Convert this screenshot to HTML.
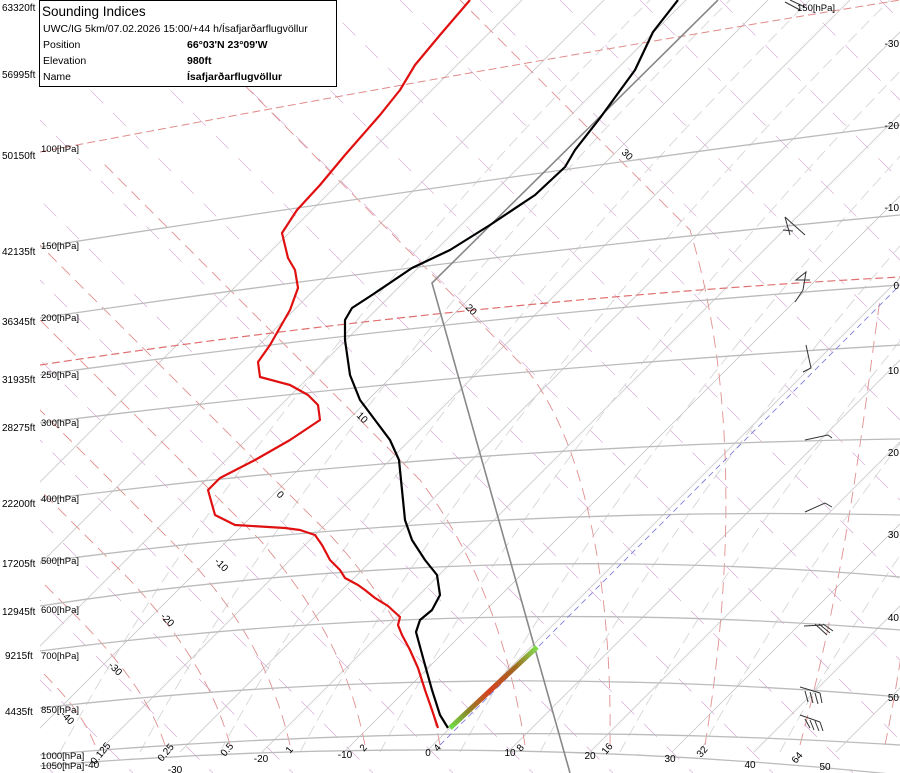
<!DOCTYPE html>
<html><head><meta charset="utf-8"><style>
body{margin:0;background:#fff}
svg{display:block;font-family:"Liberation Sans",sans-serif}
</style></head><body>
<svg width="900" height="773" viewBox="0 0 900 773" xmlns="http://www.w3.org/2000/svg">
<defs>
<clipPath id="c"><rect x="40" y="0" width="860" height="773"/></clipPath>
<linearGradient id="pg" x1="450" y1="728" x2="537" y2="647" gradientUnits="userSpaceOnUse">
<stop offset="0" stop-color="#6ee04a"/><stop offset="0.2" stop-color="#8a8a2a"/><stop offset="0.45" stop-color="#d84020"/><stop offset="0.75" stop-color="#a06a20"/><stop offset="1" stop-color="#7ee050"/>
</linearGradient>
</defs>
<rect width="900" height="773" fill="#fff"/>
<g clip-path="url(#c)">
<g stroke="#dcb8dc" stroke-width="0.8" stroke-dasharray="18,14" fill="none">
<path d="M-400,0 L373,773 M-320,0 L453,773 M-240,0 L533,773 M-160,0 L613,773 M-80,0 L693,773 M0,0 L773,773 M80,0 L853,773 M160,0 L933,773 M240,0 L1013,773 M320,0 L1093,773 M400,0 L1173,773 M480,0 L1253,773 M560,0 L1333,773 M640,0 L1413,773 M720,0 L1493,773 M800,0 L1573,773 M880,0 L1653,773 M-480,0 L293,773 M-560,0 L213,773 M-640,0 L133,773 M-720,0 L53,773"/>
</g>
<g stroke="#c8c8c8" stroke-width="0.8" fill="none">
<path d="M-230,752 L522,0 M-148,752 L604,0 M-66,752 L686,0 M16,752 L768,0 M98,752 L850,0 M180,752 L932,0 M262,752 L1014,0 M344,752 L1096,0 M426,752 L1178,0 M508,752 L1260,0 M590,752 L1342,0 M672,752 L1424,0 M754,752 L1506,0 M836,752 L1588,0 M918,752 L1670,0"/>
</g>
<g stroke="#d6d6d6" stroke-width="0.9" stroke-dasharray="12,6" fill="none">
<path d="M60,752 Q250,400 650,0 M140,752 Q330,400 730,0 M220,752 Q410,400 810,0 M300,752 Q490,400 890,0 M380,752 Q570,400 970,0 M460,752 Q650,400 1050,0 M540,752 Q730,400 1130,0 M620,752 Q810,400 1210,0 M700,752 Q890,400 1290,0 M780,752 Q970,400 1370,0"/>
</g>
<g stroke="#e09090" stroke-width="0.9" stroke-dasharray="12,7" fill="none">
<path d="M95,745 C85,720 70,700 40,670"/>
<path d="M165,745 C150,700 120,660 70,610 L40,580"/>
<path d="M230,745 C215,690 185,640 130,580 L40,490"/>
<path d="M290,745 C275,680 245,620 190,560 L40,410"/>
<path d="M365,745 C350,670 320,610 260,540 L40,320"/>
<path d="M440,745 C425,665 390,600 330,535 L40,245"/>
<path d="M525,745 C510,650 480,560 420,480 L100,160"/>
<path d="M610,745 C612,600 590,450 527,370 L160,0"/>
<path d="M705,745 C735,560 735,380 690,230 L460,0"/>
<path d="M800,745 C850,560 865,400 880,300"/>
<path d="M885,745 C915,600 925,450 930,380"/>
</g>
<g stroke="#bbb" stroke-width="1.3" fill="none">
<path d="M40,247 Q470,180 900,125"/>
<path d="M40,318 Q470,255 900,215"/>
<path d="M40,423 Q470,370 900,345"/>
<path d="M40,500 Q470,445 900,439"/>
<path d="M40,562 Q470,505 900,515"/>
<path d="M40,606 Q470,540 900,577"/>
<path d="M40,651 Q470,595 900,630"/>
<path d="M40,708 Q470,660 900,697"/>
<path d="M40,755 Q470,718 900,745"/>
<path d="M40,766 Q470,730 900,775"/>
<path d="M40,375 Q470,315 900,285"/>
</g>
<path d="M40,152 Q470,70 900,0" stroke="#e08a8a" stroke-width="1" stroke-dasharray="8,4" fill="none"/>
<path d="M40,365 Q470,300 900,277" stroke="#e07070" stroke-width="1.2" stroke-dasharray="8,4" fill="none"/>
<path d="M440,745 L900,285" stroke="#8080e0" stroke-width="0.9" stroke-dasharray="6,4" fill="none"/>
<path d="M570,773 L432,283 L718,0" stroke="#888" stroke-width="1.6" fill="none"/>
<path d="M450,728 L537,647" stroke="url(#pg)" stroke-width="5" fill="none"/>
<path d="M448,728 L440,715 L432,690 L425,665 L416,632 L420,620 L432,610 L440,595 L437,575 L425,560 L412,540 L405,520 L402,490 L399,460 L390,440 L375,420 L360,400 L350,375 L345,340 L345,320 L352,308 L372,295 L412,268 L450,250 L490,225 L535,195 L565,167 L575,150 L600,118 L635,70 L653,32 L678,0" stroke="#000" stroke-width="2.2" fill="none" stroke-linejoin="round"/>
<path d="M438,728 L432,710 L425,690 L418,668 L410,650 L402,635 L398,625 L400,617 L388,606 L375,598 L365,590 L358,585 L345,578 L340,570 L330,560 L322,545 L315,535 L300,530 L285,528 L235,525 L215,515 L208,490 L220,478 L255,460 L290,440 L320,420 L318,405 L308,395 L290,385 L260,377 L258,362 L270,345 L290,310 L298,288 L295,270 L288,258 L282,233 L297,210 L320,185 L345,155 L380,115 L400,90 L415,65 L440,35 L470,0" stroke="#e01010" stroke-width="2.2" fill="none" stroke-linejoin="round"/>
<g stroke="#333" stroke-width="1" fill="none">
<path d="M805,7 L790,0 M800,10 L785,2"/>
<path d="M805,235 L785,217 M785,217 L790,235 M783,230 L793,231"/>
<path d="M803,290 L806,272 L796,280 L810,280 M803,290 L795,302"/>
<path d="M806,345 L811,368 L803,372"/>
<path d="M805,440 L828,435 L832,438"/>
<path d="M805,512 L825,503 L832,507"/>
<path d="M804,626 L823,625 M815,624 L827,635 M819,624 L830,633 M823,624 L833,631"/>
<path d="M800,687 L820,693 M805,691 L808,702 M810,692 L813,703 M815,693 L818,704 M820,693 L822,703"/>
<path d="M800,715 L820,722 M805,719 L810,728 M810,720 L814,730 M815,721 L819,731 M820,722 L823,731"/>
</g>
</g>
<rect x="39.5" y="0.5" width="297" height="86" fill="#fff" stroke="#000"/>
<g font-size="10.5" fill="#000">
<text x="42" y="16" font-size="13.5">Sounding Indices</text>
<text x="43" y="32">UWC/IG 5km/07.02.2026 15:00/+44 h/Ísafjarðarflugvöllur</text>
<text x="43" y="48">Position</text><text x="187" y="48" font-weight="bold">66°03'N 23°09'W</text>
<text x="43" y="64">Elevation</text><text x="187" y="64" font-weight="bold">980ft</text>
<text x="43" y="80">Name</text><text x="187" y="80" font-weight="bold">Ísafjarðarflugvöllur</text>
</g>
<g font-size="10" fill="#000">
<text x="2" y="11">63320ft</text>
<text x="2" y="78">56995ft</text>
<text x="2" y="159">50150ft</text>
<text x="2" y="255">42135ft</text>
<text x="2" y="325">36345ft</text>
<text x="2" y="383">31935ft</text>
<text x="2" y="431">28275ft</text>
<text x="2" y="507">22200ft</text>
<text x="2" y="567">17205ft</text>
<text x="2" y="615">12945ft</text>
<text x="5" y="659">9215ft</text>
<text x="5" y="715">4435ft</text>
</g>
<g font-size="9.5" fill="#000">
<text x="41" y="152">100[hPa]</text>
<text x="41" y="249">150[hPa]</text>
<text x="41" y="321">200[hPa]</text>
<text x="41" y="378">250[hPa]</text>
<text x="41" y="426">300[hPa]</text>
<text x="41" y="502">400[hPa]</text>
<text x="41" y="564">500[hPa]</text>
<text x="41" y="613">600[hPa]</text>
<text x="41" y="659">700[hPa]</text>
<text x="41" y="713">850[hPa]</text>
<text x="41" y="759">1000[hPa]</text>
<text x="41" y="769">1050[hPa]</text>
<text x="797" y="11">150[hPa]</text>
</g>
<g font-size="10" fill="#000" text-anchor="end">
<text x="899" y="47">-30</text><text x="899" y="129">-20</text><text x="899" y="211">-10</text>
<text x="899" y="289">0</text><text x="899" y="374">10</text><text x="899" y="456">20</text>
<text x="899" y="538">30</text><text x="899" y="621">40</text><text x="899" y="701">50</text>
</g>
<g font-size="10" fill="#000" text-anchor="middle">
<text x="92" y="768">-40</text><text x="175" y="773">-30</text><text x="261" y="762">-20</text><text x="345" y="758">-10</text>
<text x="428" y="756">0</text><text x="510" y="756">10</text><text x="590" y="759">20</text><text x="670" y="762">30</text>
<text x="750" y="768">40</text><text x="825" y="770">50</text>
</g>
<g font-size="10" fill="#000">
<text transform="translate(95,765) rotate(-50)">0.125</text>
<text transform="translate(162,762) rotate(-50)">0.25</text>
<text transform="translate(225,757) rotate(-50)">0.5</text>
<text transform="translate(290,754) rotate(-50)">1</text>
<text transform="translate(364,752) rotate(-50)">2</text>
<text transform="translate(438,752) rotate(-50)">4</text>
<text transform="translate(521,752) rotate(-50)">8</text>
<text transform="translate(606,755) rotate(-50)">16</text>
<text transform="translate(701,758) rotate(-50)">32</text>
<text transform="translate(796,764) rotate(-50)">64</text>
<text transform="translate(621,153) rotate(45)">30</text>
<text transform="translate(465,308) rotate(45)">20</text>
<text transform="translate(356,416) rotate(45)">10</text>
<text transform="translate(276,495) rotate(45)">0</text>
<text transform="translate(214,562) rotate(45)">-10</text>
<text transform="translate(160,617) rotate(45)">-20</text>
<text transform="translate(108,666) rotate(45)">-30</text>
<text transform="translate(60,715) rotate(45)">-40</text>
</g>
</svg>
</body></html>
